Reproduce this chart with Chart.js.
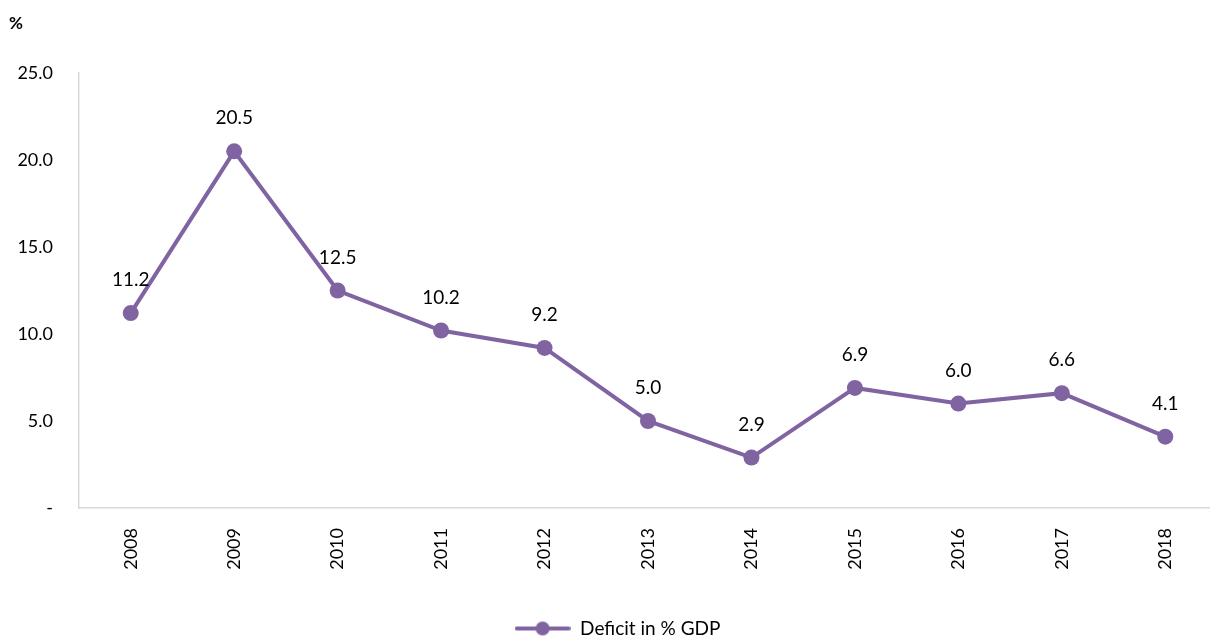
<!DOCTYPE html>
<html>
<head>
<meta charset="utf-8">
<script src="https://cdn.jsdelivr.net/npm/chart.js@4"></script>
<style>
  html, body { margin: 0; padding: 0; background: #fff; overflow: hidden; }
  #wrap { position: relative; width: 1225px; height: 637px; }
</style>
</head>
<body>
<div id="wrap"><canvas id="deficitChart"></canvas></div>
<script>
// data
const years = ['2008', '2009', '2010', '2011', '2012', '2013', '2014', '2015', '2016', '2017', '2018'];
const deficit = [11.2, 20.5, 12.5, 10.2, 9.2, 5.0, 2.9, 6.9, 6.0, 6.6, 4.1];
const yTicks = [0, 5, 10, 15, 20, 25];

const purple = '#8064A2';
const fontFamily = 'Lato, "Open Sans", sans-serif';

// legend marker: line with a dot in the middle
const marker = document.createElement('canvas');
marker.width = 56;
marker.height = 16;
(function () {
    const c = marker.getContext('2d');
    c.strokeStyle = purple;
    c.lineWidth = 4;
    c.lineCap = 'round';
    c.beginPath();
    c.moveTo(2, 8);
    c.lineTo(54, 8);
    c.stroke();
    c.fillStyle = purple;
    c.beginPath();
    c.arc(28, 8, 7, 0, Math.PI * 2);
    c.fill();
})();

// value labels above points + "%" unit
const labelPlugin = {
    id: 'valueLabels',
    afterLayout(chart) {
        // push the legend down to the bottom edge
        chart.legend.top += 11;
        chart.legend.bottom += 11;
    },
    afterDatasetsDraw(chart) {
        const ctx = chart.ctx;
        const meta = chart.getDatasetMeta(0);
        ctx.save();
        ctx.font = '19px ' + fontFamily;
        ctx.fillStyle = '#000';
        ctx.textAlign = 'center';
        ctx.textBaseline = 'middle';
        meta.data.forEach((pt, i) => {
            ctx.fillText(deficit[i].toFixed(1), pt.x, pt.y - 33);
        });
        ctx.font = 'bold 17px ' + fontFamily;
        ctx.textAlign = 'left';
        ctx.fillText('%', 9, 24);
        ctx.restore();
    }
};

const ctx = document.getElementById('deficitChart').getContext('2d');
new Chart(ctx, {
    type: 'line',
    data: {
        labels: years,
        datasets: [{
            label: 'Deficit in % GDP',
            data: deficit,
            borderColor: purple,
            backgroundColor: purple,
            borderWidth: 4,
            pointRadius: 8,
            pointHoverRadius: 8,
            pointBackgroundColor: purple,
            pointBorderWidth: 0,
            pointStyle: 'circle',
            tension: 0
        }]
    },
    options: {
        responsive: true,
        maintainAspectRatio: false,
        animation: false,
        layout: { padding: { top: 73, left: 10, right: 0, bottom: 0 } },
        plugins: {
            legend: {
                position: 'bottom',
                labels: {
                    usePointStyle: true,
                    pointStyle: marker,
                    pointStyleWidth: 56,
                    color: '#000',
                    padding: 1,
                    font: { family: fontFamily, size: 19 }
                }
            },
            tooltip: { enabled: false }
        },
        scales: {
            x: {
                offset: true,
                grid: { display: false },
                border: { display: true, color: '#d9d9d9', width: 1.5 },
                ticks: {
                    color: '#000',
                    minRotation: 90,
                    maxRotation: 90,
                    padding: 12,
                    font: { family: fontFamily, size: 18 }
                },
                afterFit(axis) { axis.height = 99; }
            },
            y: {
                min: 0,
                max: 25,
                afterBuildTicks(axis) { axis.ticks = yTicks.map(v => ({ value: v })); },
                grid: { display: false },
                border: { display: true, color: '#d9d9d9', width: 1.5 },
                ticks: {
                    color: '#000',
                    padding: 18,
                    font: { family: fontFamily, size: 18 },
                    callback: v => (v === 0 ? '-' : v.toFixed(1))
                },
                afterFit(axis) { axis.width = 69; }
            }
        }
    },
    plugins: [labelPlugin]
});
</script>
</body>
</html>
